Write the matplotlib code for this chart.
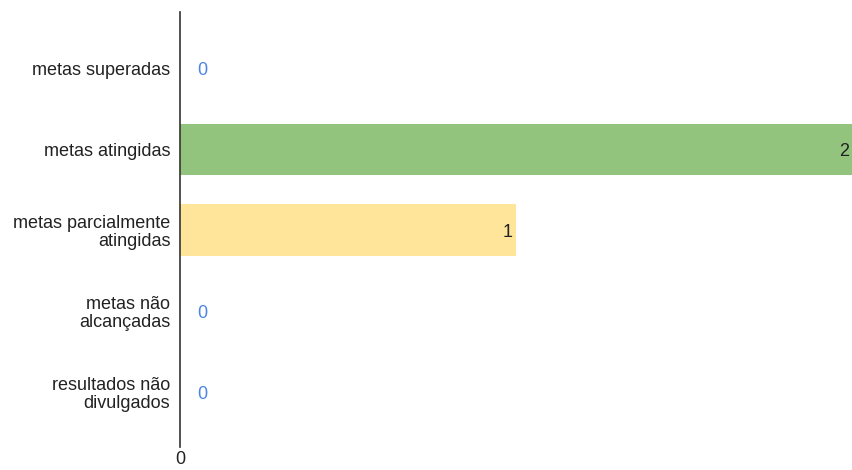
import matplotlib.pyplot as plt

categories = ["metas superadas", "metas atingidas", "metas parcialmente\natingidas",
              "metas não\nalcançadas", "resultados não\ndivulgados"]
values = [0, 2, 1, 0, 0]
bar_colors = ["#93c47d", "#93c47d", "#ffe599", "#93c47d", "#93c47d"]

plt.rcParams["font.family"] = ["Liberation Sans", "DejaVu Sans"]

fig = plt.figure(figsize=(8.53, 4.70), dpi=100)
ax = fig.add_axes([180 / 853, 1 - 447 / 470, 1 - 180 / 853, 435 / 470])

pos = list(range(len(categories)))
ax.barh(pos, values, height=0.64, color=bar_colors)

# value labels: inside the bar when there is one, blue next to the axis when zero
for y, v in zip(pos, values):
    if v > 0:
        ax.text(v - 0.013, y, str(v), ha="right", va="center_baseline", fontsize=13, color="#222222")
    else:
        ax.text(0.067, y, str(v), ha="center", va="center_baseline", fontsize=13, color="#4a86e8")

ax.set_xlim(0, 2)
ax.set_ylim(4.68, -0.7)
ax.set_yticks(pos)
ax.set_yticklabels(categories, fontsize=13, color="#222222", linespacing=1.05)
ax.set_xticks([0])
ax.set_xticklabels(["0"], fontsize=13, color="#222222")
ax.tick_params(axis="y", length=0, pad=7)
ax.tick_params(axis="x", length=0, pad=3)

for side in ["top", "right", "bottom"]:
    ax.spines[side].set_visible(False)
ax.spines["left"].set_color("#333333")
ax.spines["left"].set_linewidth(1.2)
ax.spines["left"].set_zorder(3)

fig.savefig("out.png", dpi=100)
